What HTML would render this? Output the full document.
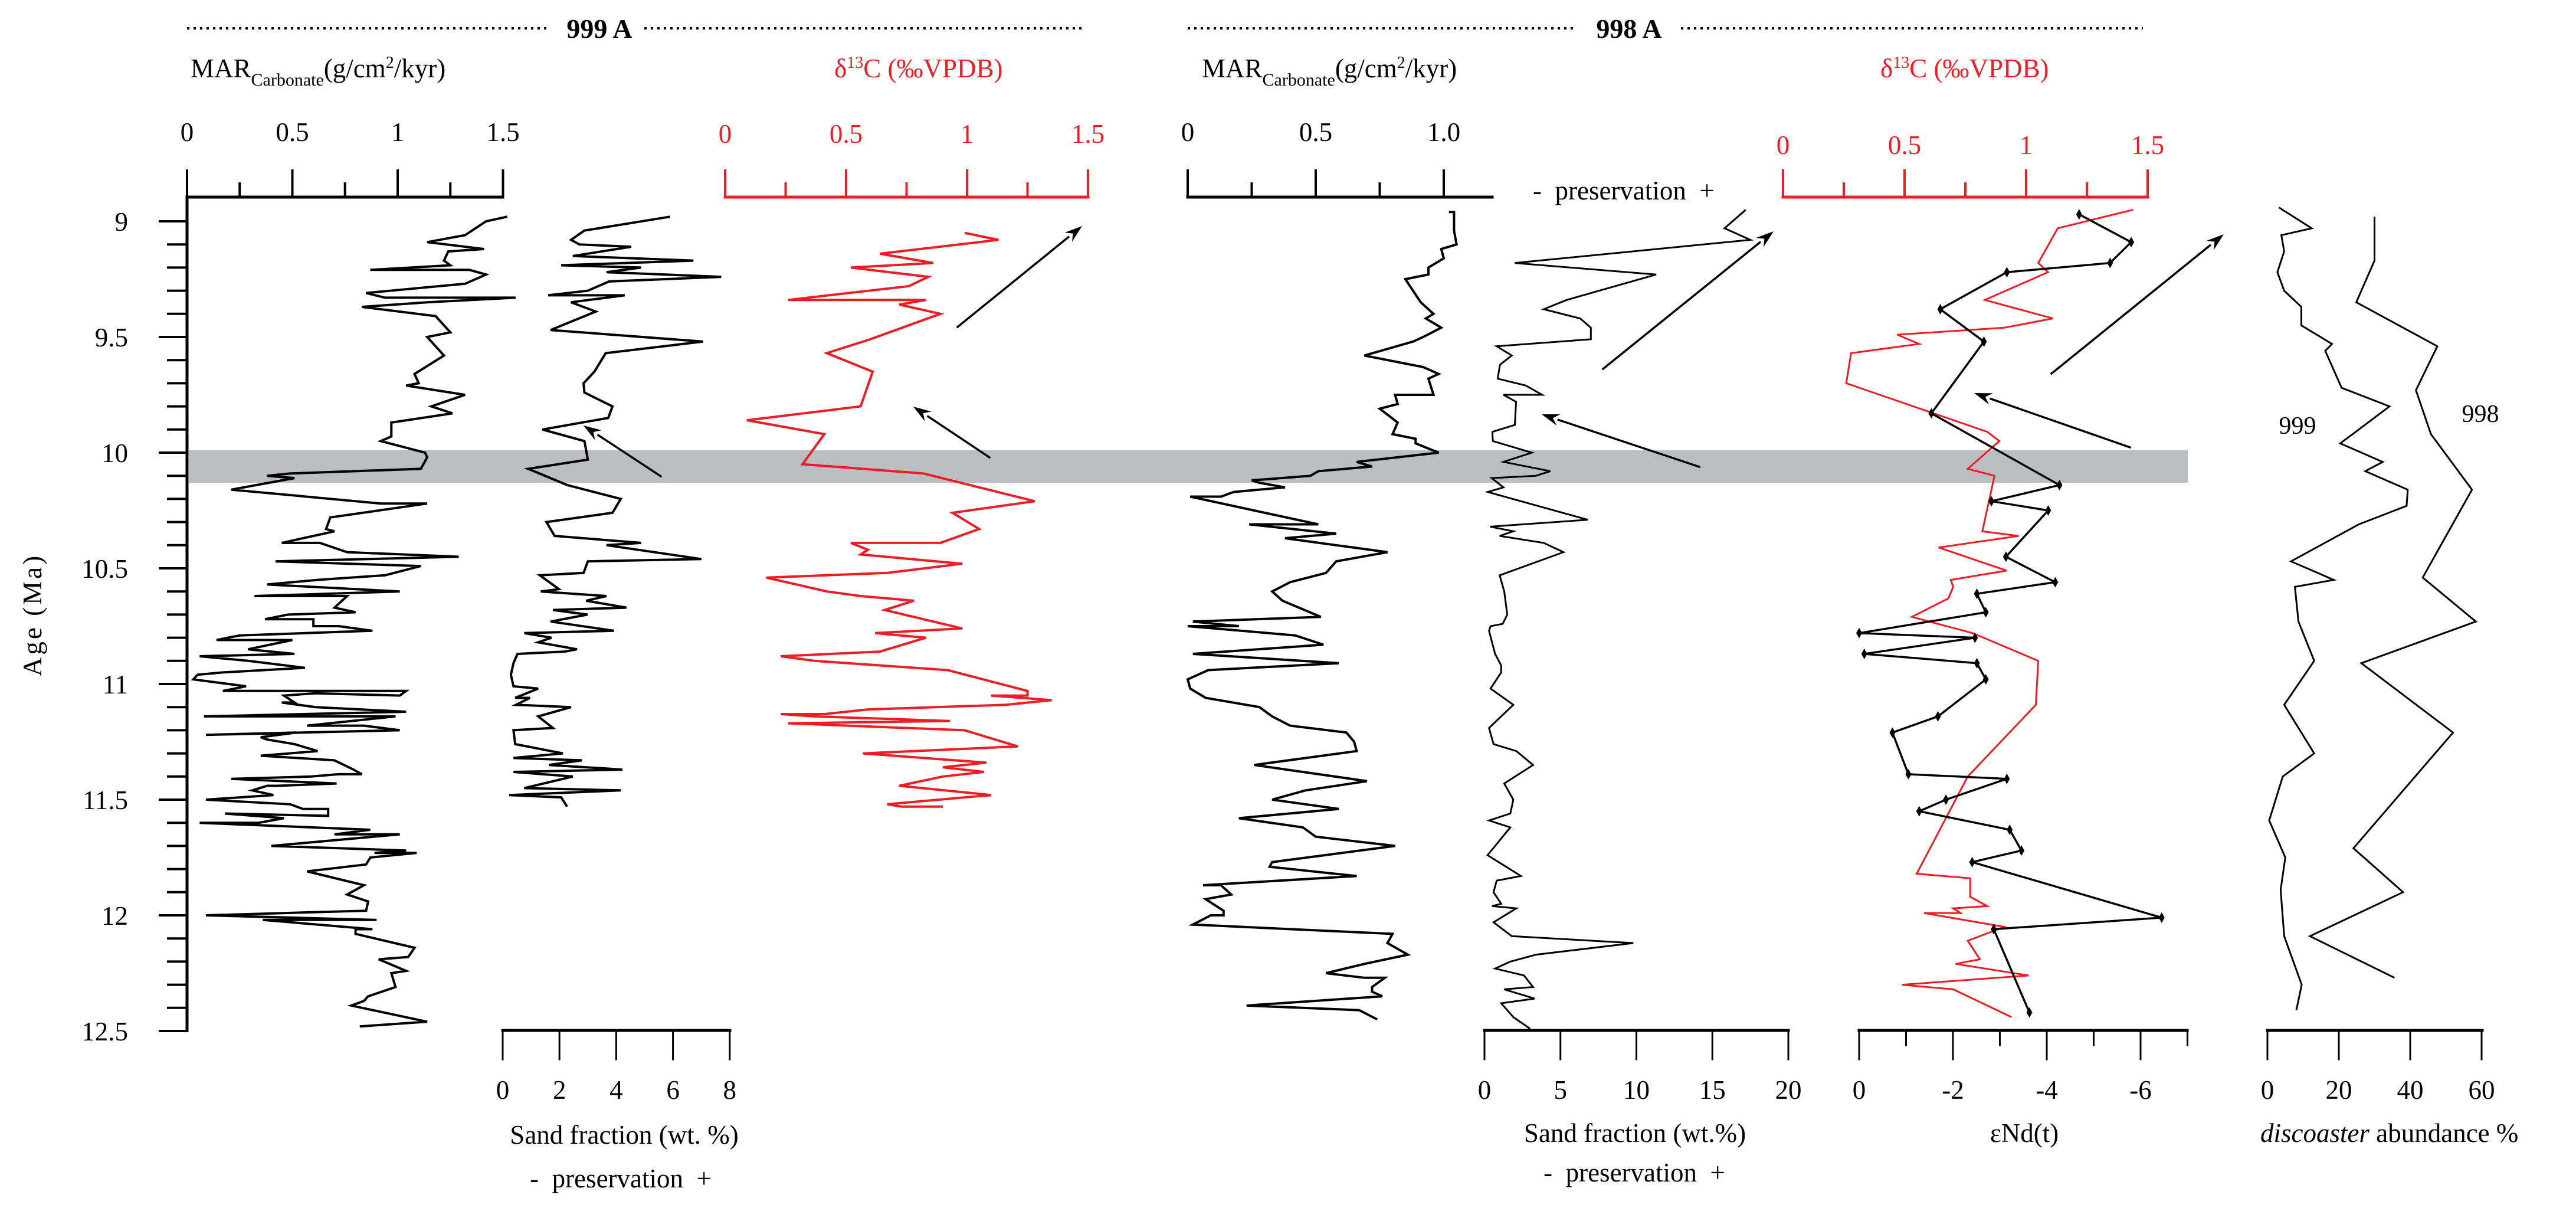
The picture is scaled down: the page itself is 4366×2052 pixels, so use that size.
<!DOCTYPE html>
<html><head><meta charset="utf-8"><style>
html,body{margin:0;padding:0;background:#fff;}
svg, svg text{font-family:"Liberation Serif","DejaVu Serif",serif;}
</style></head><body>
<svg id="chart" width="4366" height="2047" viewBox="0 0 4366 2047" xmlns="http://www.w3.org/2000/svg" font-family="Liberation Serif, DejaVu Serif, serif">
<rect x="0" y="0" width="4366" height="2047" fill="#fff"/>
<rect x="320" y="763" width="3388" height="55" fill="#bcbdc0"/>
<g id="static" fill="#000" font-size="45" font-family="Liberation Serif, DejaVu Serif, serif">
  <line x1="317" y1="48" x2="933" y2="48" stroke="#000" stroke-width="4" stroke-dasharray="4 7"/>
  <line x1="1092" y1="48" x2="1838" y2="48" stroke="#000" stroke-width="4" stroke-dasharray="4 7"/>
  <text x="1016" y="64" text-anchor="middle" font-weight="bold" font-size="46">999 A</text>
  <line x1="2013" y1="48" x2="2671" y2="48" stroke="#000" stroke-width="4" stroke-dasharray="4 7"/>
  <line x1="2849" y1="48" x2="3632" y2="48" stroke="#000" stroke-width="4" stroke-dasharray="4 7"/>
  <text x="2761" y="64" text-anchor="middle" font-weight="bold" font-size="46">998 A</text>
  <text x="323" y="131">MAR<tspan font-size="30" dy="14">Carbonate</tspan><tspan dy="-14">(g/cm</tspan><tspan font-size="28" dy="-16">2</tspan><tspan dy="16">/kyr)</tspan></text>
  <text x="1414" y="131" fill="#ee1c25">δ<tspan font-size="28" dy="-16">13</tspan><tspan dy="16">C (‰VPDB)</tspan></text>
  <text x="2037" y="131">MAR<tspan font-size="30" dy="14">Carbonate</tspan><tspan dy="-14">(g/cm</tspan><tspan font-size="28" dy="-16">2</tspan><tspan dy="16">/kyr)</tspan></text>
  <text x="3187" y="131" fill="#ee1c25">δ<tspan font-size="28" dy="-16">13</tspan><tspan dy="16">C (‰VPDB)</tspan></text>
  <text x="2598" y="338" xml:space="preserve">-  preservation  +</text>
  <text transform="translate(70,1042) rotate(-90)" text-anchor="middle" letter-spacing="4">Age (Ma)</text>
  <text x="1058" y="1938" text-anchor="middle">Sand fraction (wt. %)</text>
  <text x="1052" y="2012" text-anchor="middle" xml:space="preserve">-  preservation  +</text>
  <text x="2771" y="1935" text-anchor="middle">Sand fraction (wt.%)</text>
  <text x="2770" y="2002" text-anchor="middle" xml:space="preserve">-  preservation  +</text>
  <text x="3431" y="1935" text-anchor="middle">εNd(t)</text>
  <text x="3831" y="1935"><tspan font-style="italic">discoaster</tspan> abundance %</text>
  <text x="3894" y="735" text-anchor="middle" font-size="42">999</text>
  <text x="4204" y="715" text-anchor="middle" font-size="42">998</text>
</g>
<g id="axes" font-family="Liberation Serif, DejaVu Serif, serif"></g>
<g id="series"></g>
</svg>
<script>
// ---------- DATA ----------
const ageTicks = [9, 9.5, 10, 10.5, 11, 11.5, 12, 12.5];
const ageTickLabels = ["9", "9.5", "10", "10.5", "11", "11.5", "12", "12.5"];

const mar999Age = [8.98,9.0,9.06,9.09,9.12,9.13,9.17,9.19,9.21,9.21,9.23,9.27,9.31,9.33,9.33,9.35,9.37,9.41,9.48,9.50,9.58,9.66,9.70,9.71,9.75,9.80,9.83,9.87,9.93,9.95,10.0,10.02,10.07,10.09,10.10,10.11,10.16,10.22,10.22,10.28,10.33,10.34,10.39,10.39,10.43,10.45,10.47,10.49,10.53,10.55,10.57,10.60,10.62,10.62,10.67,10.69,10.70,10.72,10.72,10.75,10.75,10.77,10.79,10.81,10.81,10.85,10.87,10.88,10.90,10.93,10.95,10.96,10.98,11.01,11.03,11.03,11.05,11.04,11.05,11.08,11.08,11.10,11.12,11.14,11.14,11.18,11.18,11.20,11.22,11.21,11.23,11.24,11.26,11.29,11.31,11.33,11.37,11.39,11.39,11.40,11.41,11.43,11.44,11.44,11.46,11.48,11.50,11.52,11.54,11.54,11.57,11.56,11.58,11.60,11.60,11.63,11.65,11.65,11.70,11.72,11.73,11.73,11.75,11.78,11.81,11.87,11.91,11.94,11.98,12.0,12.02,12.02,12.06,12.06,12.08,12.14,12.18,12.19,12.24,12.25,12.31,12.35,12.37,12.39,12.46,12.48];
const mar999Val = [1.52,1.42,1.32,1.14,1.41,1.24,1.22,1.25,0.87,1.34,1.42,1.32,0.85,0.94,1.56,1.14,0.83,1.18,1.25,1.14,1.22,1.08,1.10,1.04,1.32,1.16,1.26,0.97,0.97,0.92,1.13,1.14,1.11,0.49,0.38,0.51,0.21,0.92,1.14,0.68,0.66,0.70,0.45,0.63,0.76,1.29,0.42,1.11,0.94,0.62,0.38,1.01,0.32,0.76,0.70,0.80,0.48,0.37,0.60,0.60,0.72,0.88,0.25,0.14,0.50,0.29,0.51,0.06,0.29,0.56,0.17,0.05,0.03,0.28,0.17,1.04,1.01,0.61,0.46,0.51,0.45,0.61,1.04,0.08,0.99,0.57,0.84,1.01,0.09,0.52,0.35,0.38,0.51,0.62,0.35,0.70,0.79,0.83,0.72,0.59,0.21,0.71,0.43,0.38,0.31,0.41,0.09,0.49,0.55,0.67,0.67,0.18,0.46,0.34,0.06,0.87,0.70,1.01,0.40,1.04,0.89,1.09,0.87,0.85,0.57,0.84,0.76,0.86,0.85,0.09,0.90,0.36,0.88,0.80,0.80,1.08,1.05,0.91,1.04,0.97,0.99,0.86,0.84,0.78,1.14,0.82];

const sand999Age = [8.98,9.04,9.08,9.10,9.11,9.15,9.17,9.19,9.20,9.22,9.24,9.26,9.30,9.32,9.32,9.35,9.39,9.47,9.52,9.57,9.65,9.70,9.74,9.80,9.85,9.90,9.95,10.03,10.07,10.14,10.20,10.26,10.30,10.36,10.39,10.40,10.46,10.47,10.52,10.53,10.59,10.60,10.62,10.64,10.67,10.68,10.70,10.73,10.77,10.78,10.80,10.82,10.85,10.86,10.87,10.91,10.96,11.01,11.02,11.06,11.06,11.09,11.10,11.14,11.19,11.20,11.26,11.30,11.32,11.33,11.35,11.37,11.38,11.40,11.45,11.46,11.48,11.49,11.53];
const sand999Val = [5.9,2.88,2.41,2.70,4.53,2.47,6.72,2.06,4.88,3.66,7.70,3.75,3.0,1.60,4.30,2.41,3.28,1.69,7.06,3.63,3.23,2.85,2.88,3.87,3.72,1.40,2.88,3.0,0.90,2.27,4.16,3.87,1.54,1.83,4.88,3.66,7.0,3.0,2.85,1.31,1.98,1.34,3.66,2.94,4.36,1.77,2.99,1.69,3.92,0.76,1.72,1.25,2.62,2.18,0.52,0.38,0.29,0.38,1.25,0.44,0.96,0.47,2.41,1.25,1.77,0.38,0.44,2.12,0.38,2.79,1.63,4.22,0.38,2.47,0.76,4.16,0.23,2.06,2.27];

const c999Age = [9.05,9.08,9.14,9.18,9.20,9.24,9.28,9.34,9.34,9.36,9.40,9.51,9.57,9.65,9.80,9.86,9.92,10.05,10.09,10.21,10.26,10.33,10.39,10.39,10.42,10.44,10.48,10.52,10.54,10.60,10.62,10.64,10.68,10.76,10.78,10.80,10.86,10.88,10.90,10.94,11.03,11.05,11.05,11.07,11.09,11.11,11.13,11.13,11.14,11.16,11.17,11.20,11.27,11.30,11.34,11.36,11.38,11.40,11.44,11.48,11.52,11.53,11.53];
const c999Val = [0.99,1.13,0.64,0.86,0.52,0.84,0.76,0.26,0.83,0.72,0.89,0.60,0.42,0.61,0.56,0.09,0.41,0.32,0.82,1.28,0.94,1.05,0.89,0.52,0.59,0.56,0.98,0.67,0.17,0.42,0.56,0.78,0.66,0.98,0.62,0.83,0.64,0.23,0.37,0.92,1.25,1.25,1.10,1.35,1.16,0.59,0.41,0.23,0.37,0.93,0.26,0.99,1.21,0.57,1.08,0.90,1.07,0.90,0.72,1.10,0.67,0.73,0.90];

const mar998Age = [8.96,8.96,9.04,9.10,9.12,9.16,9.20,9.23,9.25,9.35,9.40,9.42,9.46,9.50,9.52,9.58,9.63,9.66,9.68,9.75,9.75,9.79,9.81,9.87,9.92,9.94,9.96,10.0,10.04,10.06,10.08,10.10,10.12,10.13,10.15,10.17,10.19,10.19,10.31,10.31,10.35,10.37,10.43,10.47,10.52,10.56,10.60,10.64,10.71,10.73,10.75,10.75,10.79,10.83,10.87,10.91,10.94,10.98,11.02,11.06,11.10,11.14,11.18,11.21,11.25,11.29,11.35,11.42,11.46,11.50,11.54,11.58,11.62,11.66,11.70,11.77,11.79,11.83,11.87,11.87,11.91,11.93,11.98,12.0,12.0,12.04,12.08,12.12,12.17,12.21,12.25,12.27,12.27,12.31,12.33,12.35,12.39,12.41,12.45];
const mar998Val = [1.02,1.04,1.04,1.05,0.99,1.00,0.94,0.94,0.85,0.91,0.96,0.93,0.99,0.92,0.88,0.69,0.92,0.98,0.94,0.96,0.81,0.82,0.75,0.82,0.80,0.89,0.89,0.98,0.66,0.72,0.51,0.48,0.25,0.28,0.38,0.18,0.13,0.01,0.51,0.24,0.58,0.38,0.78,0.58,0.54,0.40,0.33,0.37,0.52,0.02,0.20,0.00,0.42,0.53,0.02,0.59,0.08,0.0,0.01,0.07,0.28,0.33,0.40,0.62,0.65,0.66,0.26,0.70,0.46,0.33,0.59,0.20,0.45,0.50,0.81,0.33,0.32,0.66,0.06,0.13,0.17,0.07,0.14,0.14,0.09,0.02,0.80,0.78,0.86,0.69,0.54,0.69,0.77,0.72,0.72,0.76,0.23,0.67,0.74];

const sand998Age = [8.95,9.03,9.08,9.18,9.23,9.34,9.38,9.42,9.46,9.51,9.54,9.58,9.62,9.68,9.71,9.75,9.75,9.78,9.88,9.91,9.95,10.0,10.04,10.08,10.10,10.11,10.15,10.17,10.29,10.32,10.34,10.36,10.39,10.43,10.53,10.60,10.70,10.74,10.75,10.77,10.87,10.92,10.95,11.02,11.09,11.19,11.26,11.29,11.35,11.43,11.50,11.56,11.59,11.62,11.74,11.83,11.85,11.90,11.95,11.96,11.97,12.03,12.09,12.12,12.17,12.20,12.23,12.26,12.31,12.32,12.36,12.38,12.44,12.49];
const sand998Val = [17.2,15.8,17.5,2.0,11.3,5.4,3.9,6.3,7.0,7.0,0.8,1.8,1.02,0.87,2.72,3.8,1.25,2.08,2.0,0.52,0.55,3.12,1.25,4.33,3.38,0.47,1.25,0.21,6.8,0.38,1.9,1.0,3.9,5.2,1.0,1.3,1.5,1.2,0.4,0.3,0.7,1.1,1.1,0.4,1.9,0.3,0.6,2.1,3.2,1.3,1.9,1.7,0.3,1.7,0.2,2.4,0.8,0.6,1.1,0.5,2.1,0.6,1.8,9.8,3.4,1.7,0.7,2.6,3.2,1.3,3.3,1.1,1.9,3.0];

const c998Age = [8.95,9.03,9.18,9.22,9.34,9.42,9.46,9.49,9.53,9.57,9.70,9.91,9.95,10.07,10.10,10.34,10.36,10.41,10.51,10.55,10.58,10.63,10.71,10.78,10.90,11.09,11.40,11.82,11.84,11.92,11.96,11.97,11.99,11.99,12.05,12.11,12.19,12.21,12.26,12.30,12.32,12.44];
const c998Val = [1.44,1.13,1.05,1.09,0.83,1.11,0.91,0.47,0.56,0.28,0.26,0.84,0.89,0.76,0.87,0.82,0.97,0.64,0.92,0.69,0.70,0.68,0.53,0.78,1.05,1.04,0.76,0.55,0.77,0.77,0.84,0.70,0.73,0.58,0.91,0.76,0.81,0.71,1.01,0.49,0.70,0.94];

const ndAge = [8.97,9.09,9.18,9.22,9.38,9.52,9.83,10.14,10.21,10.25,10.45,10.56,10.61,10.69,10.78,10.80,10.87,10.91,10.98,11.14,11.21,11.39,11.41,11.50,11.55,11.63,11.72,11.77,12.01,12.06,12.42];
const ndVal = [-4.69,-5.80,-5.35,-3.15,-1.73,-2.66,-1.54,-4.27,-2.82,-4.03,-3.13,-4.18,-2.51,-2.70,0.0,-2.47,-0.11,-2.51,-2.70,-1.68,-0.71,-1.05,-3.15,-1.85,-1.28,-3.21,-3.46,-2.41,-6.45,-2.87,-3.63];

const disc999Age = [8.94,9.03,9.06,9.13,9.22,9.30,9.37,9.45,9.53,9.56,9.72,9.80,9.90,9.96,10.04,10.08,10.16,10.23,10.31,10.47,10.55,10.58,10.73,10.90,11.09,11.30,11.40,11.59,11.75,11.89,12.09,12.30,12.41];
const disc999Val = [3.2,12.4,3.9,4.7,2.8,4.7,9.5,9.5,18.1,16.2,20.8,34.2,25.6,20.4,32.3,27.4,39.3,39.0,25.6,6.6,18.6,7.7,8.7,13.1,4.7,13.1,4.3,0.5,5.0,3.7,4.7,9.6,8.1];
const disc998Age = [8.98,9.17,9.35,9.54,9.73,9.92,10.16,10.54,10.73,10.91,11.21,11.71,11.90,12.09,12.27];
const disc998Val = [30.0,30.0,24.9,47.6,41.6,45.8,57.3,43.5,58.4,26.3,52.0,24.1,38.0,11.9,35.6];

const mar999Ticks = [0,0.5,1,1.5], mar998Ticks = [0,0.5,1.0], c13Ticks = [0,0.5,1,1.5];
const sand999Ticks = [0,2,4,6,8], sand998Ticks = [0,5,10,15,20], ndTicks = [0,-2,-4,-6], discTicks = [0,20,40,60];

// ---------- SCALES ----------
const yAge = a => 375 + (a - 9) * 392;
const x999mar = v => 317 + v * 357;
const x999sand = v => 852 + v * 48.1;
const x999c = v => 1229 + v * 410;
const x998mar = v => 2013 + v * 434;
const x998sand = v => 2516 + v * 25.75;
const x998c = v => 3022 + v * 412;
const xNd = v => 3151 - v * 79.5;
const xDisc = v => 3843 + v * 6.05;

const NS = "http://www.w3.org/2000/svg";
const axes = document.getElementById('axes');
const series = document.getElementById('series');
function mk(tag, attrs, parent) {
  const e = document.createElementNS(NS, tag);
  for (const k in attrs) e.setAttribute(k, attrs[k]);
  parent.appendChild(e);
  return e;
}
function line(x1, y1, x2, y2, col, w, parent) {
  return mk('line', {x1, y1, x2, y2, stroke: col, 'stroke-width': w, 'stroke-linecap': 'square'}, parent);
}
function txt(x, y, s, col, anchor, parent) {
  const t = mk('text', {x, y, fill: col, 'font-size': 45, 'text-anchor': anchor, 'font-family': 'Liberation Serif, DejaVu Serif, serif'}, parent);
  t.textContent = s;
  return t;
}

// Y axis
const yAxis = line(317, 334, 317, 1746, '#000', 5, axes);


for (let i = 0; i <= 35; i++) {
  const a = 9 + i * 0.1;
  const major = i % 5 === 0;
  const tk = line(major ? 271 : 285, yAge(a), 317, yAge(a), '#000', 4, axes);
  
  
}
ageTicks.forEach((a, i) => {
  const t = txt(217, yAge(a) + 16, ageTickLabels[i], '#000', 'end', axes);
  
  
});

function topAxis(name, xf, x0, x1, majors, minors, col, labelY) {
  const g = mk('g', {}, axes);
  
  
  line(x0, 334, x1, 334, col, 5, g);
  majors.forEach(v => {
    line(xf(v), 289, xf(v), 334, col, 4, g);
    txt(xf(v), labelY, String(v === 1 && name.indexOf('mar-998') === 0 ? '1.0' : v), col, 'middle', g);
  });
  minors.forEach(v => line(xf(v), 311, xf(v), 334, col, 4, g));
}
topAxis('mar-999-axis', x999mar, 317, 852, mar999Ticks, [0.25, 0.75, 1.25], '#000', 239);
topAxis('d13c-999-axis', x999c, 1229, 1844, c13Ticks, [0.25, 0.75, 1.25], '#ee1c25', 242);
topAxis('mar-998-axis', x998mar, 2013, 2529, mar998Ticks, [0.25, 0.75], '#000', 239);
topAxis('d13c-998-axis', x998c, 3022, 3640, c13Ticks, [0.25, 0.75, 1.25], '#ee1c25', 261);

function bottomAxis(name, xf, x0, x1, majors, minors) {
  const g = mk('g', {}, axes);
  
  
  line(x0, 1746, x1, 1746, '#000', 5, g);
  majors.forEach(v => {
    line(xf(v), 1746, xf(v), 1795, '#000', 3, g);
    txt(xf(v), 1862, String(v), '#000', 'middle', g);
  });
  minors.forEach(v => line(xf(v), 1746, xf(v), 1771, '#000', 3, g));
}
bottomAxis('sand-999-axis', x999sand, 852, 1237, sand999Ticks, []);
bottomAxis('sand-998-axis', x998sand, 2516, 3031, sand998Ticks, []);
bottomAxis('end-axis', xNd, 3151, 3707, ndTicks, [-1, -3, -5, -7]);
bottomAxis('discoaster-axis', xDisc, 3843, 4207, discTicks, []);

function pathD(ages, vals, xf) {
  return ages.map((a, i) => (i ? 'L' : 'M') + xf(vals[i]).toFixed(1) + ' ' + yAge(a).toFixed(1)).join(' ');
}
function drawSeries(ages, vals, xf, col, w) {
  return mk('path', {d: pathD(ages, vals, xf), fill: 'none', stroke: col, 'stroke-width': w, 'stroke-linejoin': 'miter'}, series);
}
let p;
p = drawSeries(mar999Age, mar999Val, x999mar, '#000', 4);


p = drawSeries(sand999Age, sand999Val, x999sand, '#000', 4);


p = drawSeries(c999Age, c999Val, x999c, '#ee1c25', 4);


p = drawSeries(mar998Age, mar998Val, x998mar, '#000', 4);


p = drawSeries(sand998Age, sand998Val, x998sand, '#000', 3);


p = drawSeries(c998Age, c998Val, x998c, '#ee1c25', 3);


p = drawSeries(ndAge, ndVal, xNd, '#000', 3.5);


ndAge.forEach((a, i) => {
  const x = xNd(ndVal[i]), y = yAge(a);
  const d = mk('path', {d: `M${x} ${y-9} L${x+5} ${y} L${x} ${y+9} L${x-5} ${y} Z`, fill: '#000'}, series);
  
  
});
p = drawSeries(disc999Age, disc999Val, xDisc, '#000', 3);


p = drawSeries(disc998Age, disc998Val, xDisc, '#000', 3);



const arrowFrom = [[1120,807],[1677,775],[1623,554],[2880,791],[2717,625],[3610,758],[3477,633]];
const arrowTo = [[989,721],[1548,689],[1834,383],[2613,702],[3006,392],[3346,666],[3769,397]];
arrowFrom.forEach((f, i) => {
  const t = arrowTo[i];
  const g = mk('g', {}, series);
  
  
  const dx = t[0]-f[0], dy = t[1]-f[1], L = Math.hypot(dx, dy), ux = dx/L, uy = dy/L;
  const bx = t[0]-ux*30, by = t[1]-uy*30;
  line(f[0], f[1], bx, by, '#000', 3.5, g);
  mk('path', {d: `M${t[0]} ${t[1]} L${bx - uy*10} ${by + ux*10} L${t[0]-ux*20} ${t[1]-uy*20} L${bx + uy*10} ${by - ux*10} Z`, fill: '#000'}, g);
});
</script>
</body></html>
